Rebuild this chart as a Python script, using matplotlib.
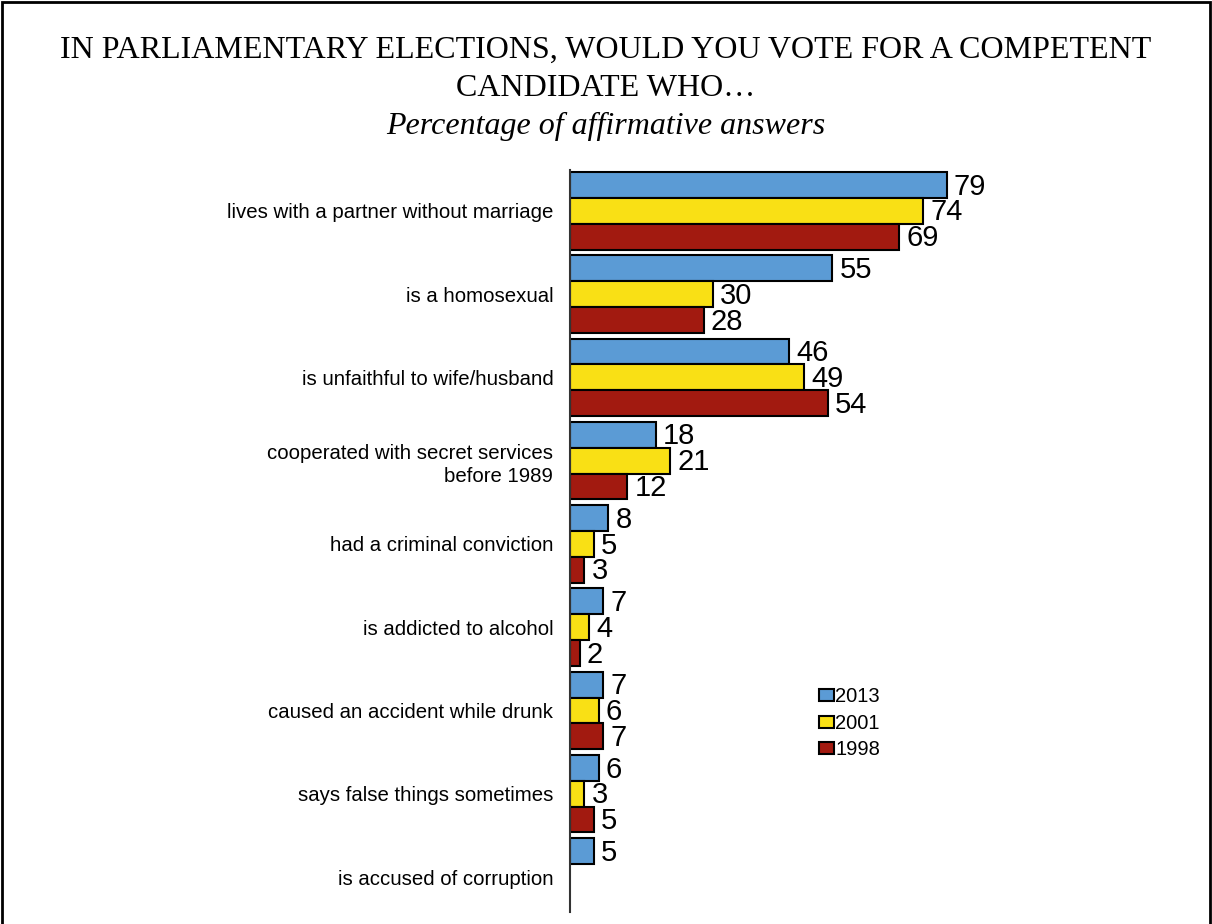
"""Grouped horizontal bars: would you vote for a competent candidate who..."""

import matplotlib.pyplot as plt
import numpy as np
from matplotlib.patches import Rectangle

CATEGORIES = [
    "lives with a partner without marriage",
    "is a homosexual",
    "is unfaithful to wife/husband",
    "cooperated with secret services\nbefore 1989",
    "had a criminal conviction",
    "is addicted to alcohol",
    "caused an accident while drunk",
    "says false things sometimes",
    "is accused of corruption",
]
SERIES = ["2013", "2001", "1998"]
VALUES_2013 = [79, 55, 46, 18, 8, 7, 7, 6, 5]
VALUES_2001 = [74, 30, 49, 21, 5, 4, 6, 3, None]
VALUES_1998 = [69, 28, 54, 12, 3, 2, 7, 5, None]
COLORS = ["#5B9BD5", "#F9E015", "#A21A10"]

fig = plt.figure(figsize=(12.12, 9.24), dpi=100)

# border round the figure
fig.patches.append(Rectangle((0.002, -0.01), 0.996, 1.008, transform=fig.transFigure,
                             fill=False, edgecolor="black", linewidth=2))

fig.text(0.5, 1 - 50 / 924, "IN PARLIAMENTARY ELECTIONS, WOULD YOU VOTE FOR A COMPETENT",
         ha="center", va="center", family="Liberation Serif", fontsize=23)
fig.text(0.5, 1 - 88 / 924, "CANDIDATE WHO\u2026",
         ha="center", va="center", family="Liberation Serif", fontsize=23)
fig.text(0.5, 1 - 126 / 924, "Percentage of affirmative answers",
         ha="center", va="center", family="Liberation Serif", fontsize=23, style="italic")

ax = fig.add_axes([570 / 1212, 1 - 912 / 924, 477 / 1212, (912 - 170) / 924])

y = np.arange(len(CATEGORIES))
h = 0.31
for k, (name, vals, col) in enumerate(zip(SERIES, [VALUES_2013, VALUES_2001, VALUES_1998], COLORS)):
    off = (k - 1) * h
    idx = [i for i, v in enumerate(vals) if v is not None]
    vv = [vals[i] for i in idx]
    ax.barh(y[idx] + off, vv, height=h, color=col, edgecolor="black",
            linewidth=1.5, label=name)
    for i, v in zip(idx, vv):
        ax.text(v + 1.5, y[i] + off + 0.02, str(v), va="center", ha="left",
                family="Liberation Sans", fontsize=21)

ax.set_xlim(0, 100)
ax.set_ylim(8.42, -0.49)
ax.set_yticks(y)
ax.set_yticklabels(CATEGORIES, family="Liberation Sans", fontsize=14.7, ha="right",
                   linespacing=1.3)
ax.tick_params(axis="y", length=0, pad=12)
ax.set_xticks([])
for s in ["top", "right", "bottom"]:
    ax.spines[s].set_visible(False)
ax.spines["left"].set_color("#333333")
ax.spines["left"].set_linewidth(1.5)

handles, labels = ax.get_legend_handles_labels()
fig.legend(handles, labels, loc="upper left",
           bbox_to_anchor=(809 / 1212, 1 - 677 / 924), frameon=False,
           prop={"family": "Liberation Sans", "size": 14.5},
           handlelength=0.75, handleheight=0.55, handletextpad=0.05,
           labelspacing=0.38, borderpad=0)

fig.savefig("out.png", dpi=100)
